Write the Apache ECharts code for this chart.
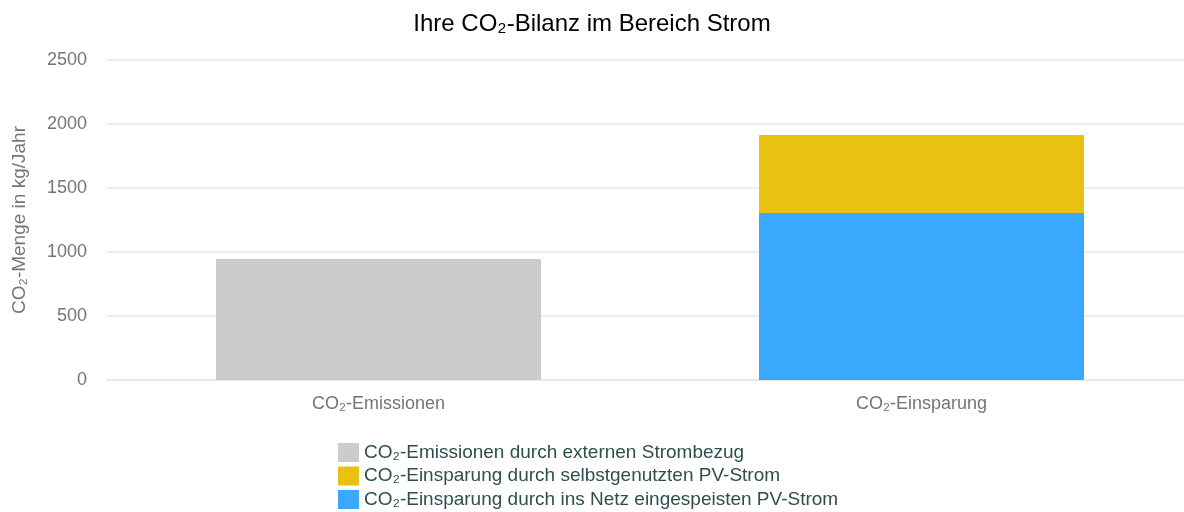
<!DOCTYPE html>
<html><head><meta charset="utf-8">
<script src="https://cdn.jsdelivr.net/npm/echarts@6/dist/echarts.min.js"></script>
<style>html,body{margin:0;padding:0;background:#fff}#c{width:1184px;height:512px}</style>
</head><body><div id="c"></div>
<script>
const categories = ['CO₂-Emissionen', 'CO₂-Einsparung'];
const seriesNames = ['CO₂-Emissionen durch externen Strombezug', 'CO₂-Einsparung durch selbstgenutzten PV-Strom', 'CO₂-Einsparung durch ins Netz eingespeisten PV-Strom'];
const emissionen = [945, null];
const eigenverbrauch = [null, 610];
const einspeisung = [null, 1305];
const colors = ['#cccccc', '#e8c111', '#3aa9fd'];
const font = 'Liberation Sans, Arial, sans-serif';
const chart = echarts.init(document.getElementById('c'));
chart.setOption({
  animation: false,
  title: {text: 'Ihre CO₂-Bilanz im Bereich Strom', left: 'center', top: 7, textStyle: {fontFamily: font, fontSize: 24, fontWeight: 'normal', color: '#000'}},
  grid: {left: 107, width: 1086, top: 60, height: 320, outerBoundsMode: 'none', containLabel: false},
  legend: {orient: 'vertical', left: 333, top: 438, height: 80, itemWidth: 21, itemHeight: 19, itemGap: 4.5, icon: 'rect',
    textStyle: {fontFamily: font, fontSize: 19, color: '#2f4f4f'}, data: seriesNames},
  xAxis: {type: 'category', data: categories, axisTick: {show: false},
    axisLine: {lineStyle: {color: '#e6e6e6', width: 1.5}},
    axisLabel: {fontFamily: font, fontSize: 18, color: '#757575', margin: 15}},
  yAxis: {type: 'value', min: 0, max: 2500, interval: 500,
    name: 'CO₂-Menge in kg/Jahr', nameLocation: 'middle', nameGap: 78,
    nameTextStyle: {fontFamily: font, fontSize: 19, color: '#757575'},
    axisLabel: {fontFamily: font, fontSize: 18, color: '#757575', margin: 20, formatter: v => String(v)},
    splitLine: {lineStyle: {color: '#e6e6e6', width: 1.5}}},
  series: [
    {name: seriesNames[0], type: 'bar', stack: 's', data: emissionen, itemStyle: {color: colors[0]}, barWidth: 325},
    {name: seriesNames[2], type: 'bar', stack: 's', data: einspeisung, itemStyle: {color: colors[2]}, barWidth: 325},
    {name: seriesNames[1], type: 'bar', stack: 's', data: eigenverbrauch, itemStyle: {color: colors[1]}, barWidth: 325}
  ]
});
</script></body></html>
